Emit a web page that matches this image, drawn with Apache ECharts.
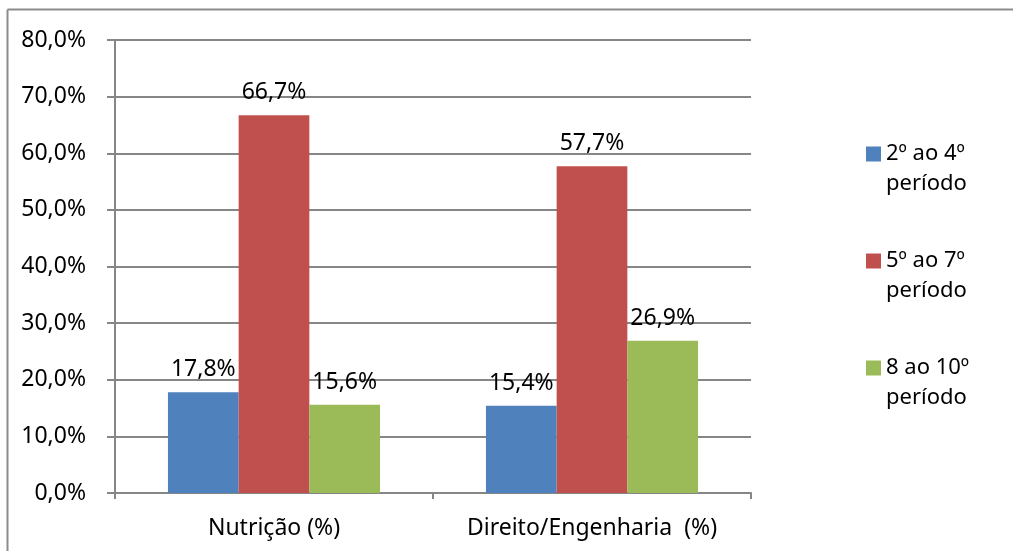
<!DOCTYPE html>
<html>
<head>
<meta charset="utf-8">
<script src="https://cdn.jsdelivr.net/npm/echarts@6/dist/echarts.min.js"></script>
<style>
  html, body { margin: 0; padding: 0; background: #fff; }
  #chart { width: 1013px; height: 551px; }
</style>
</head>
<body>
<div id="chart"></div>
<script>
const categories = ['Nutrição (%)', 'Direito/Engenharia  (%)'];
const seriesNames = ['2º ao 4º\nperíodo', '5º ao 7º\nperíodo', '8 ao 10º\nperíodo'];
const periodo2a4 = [17.8, 15.4];
const periodo5a7 = [66.7, 57.7];
const periodo8a10 = [15.6, 26.9];
const colors = ['#4F81BD', '#C0504D', '#9BBB59'];

const font = 'Noto Sans';
const fmt = function (v) { return v.toFixed(1).replace('.', ',') + '%'; };

const chart = echarts.init(document.getElementById('chart'));

function makeSeries(name, data, color) {
    return {
        name: name,
        type: 'bar',
        data: data,
        barGap: '0%',
        barCategoryGap: '33.3%',
        itemStyle: { color: color },
        label: {
            show: true,
            position: 'top',
            distance: 11,
            fontFamily: font,
            fontSize: 23,
            color: '#000',
            formatter: function (p) { return fmt(p.value); }
        }
    };
}

chart.setOption({
    animation: false,
    textStyle: { fontFamily: font },
    graphic: [
        {
            type: 'line',
            shape: { x1: 7.5, y1: 9.5, x2: 1013, y2: 9.5 },
            style: { stroke: '#8c8c8c', lineWidth: 2 },
            silent: true
        },
        {
            type: 'line',
            shape: { x1: 7.5, y1: 9.5, x2: 7.5, y2: 551 },
            style: { stroke: '#8c8c8c', lineWidth: 2 },
            silent: true
        }
    ],
    grid: { left: 115, right: 262, top: 40, bottom: 58 },
    legend: {
        orient: 'vertical',
        left: 861,
        top: 104,
        itemWidth: 15,
        itemHeight: 15,
        itemGap: 17,
        icon: 'rect',
        formatter: function (name) { return '\n' + name; },
        textStyle: { fontFamily: font, fontSize: 22, color: '#000', lineHeight: 30 },
        data: seriesNames
    },
    xAxis: {
        type: 'category',
        data: categories,
        axisLine: { lineStyle: { color: '#868686', width: 2 } },
        axisTick: { show: true, length: 6, lineStyle: { color: '#868686', width: 2 } },
        axisLabel: { fontFamily: font, fontSize: 23, color: '#000', margin: 24, interval: 0 }
    },
    yAxis: {
        type: 'value',
        min: 0,
        max: 80,
        interval: 10,
        axisLine: { show: true, lineStyle: { color: '#868686', width: 2 } },
        axisTick: { show: true, length: 8, lineStyle: { color: '#868686', width: 2 } },
        splitLine: { lineStyle: { color: '#868686', width: 2 } },
        axisLabel: { fontFamily: font, fontSize: 23, color: '#000', margin: 29, formatter: fmt }
    },
    series: [
        makeSeries(seriesNames[0], periodo2a4, colors[0]),
        makeSeries(seriesNames[1], periodo5a7, colors[1]),
        makeSeries(seriesNames[2], periodo8a10, colors[2])
    ]
});
</script>
</body>
</html>
